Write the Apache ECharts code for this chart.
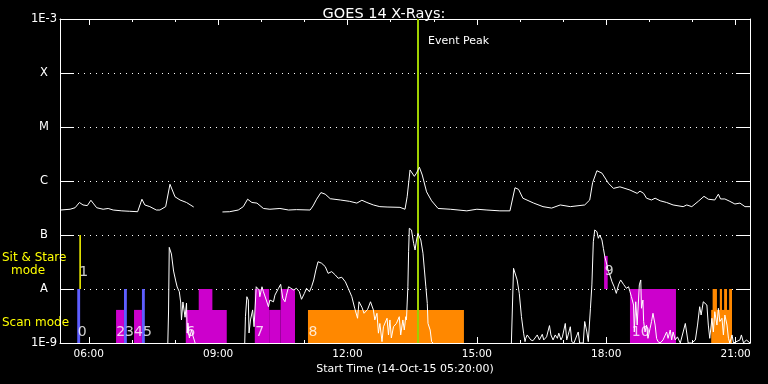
<!DOCTYPE html>
<html><head><meta charset="utf-8">
<script src="https://cdn.jsdelivr.net/npm/echarts@6/dist/echarts.min.js"></script>
<style>html,body{margin:0;padding:0;background:#000;}#c{width:768px;height:384px;}</style>
</head><body><div id="c"></div>
<script>
const titleText = 'GOES 14 X-Rays:';
const xTitle = 'Start Time (14-Oct-15 05:20:00)';
const timeStart = '05:20', timeEnd = '21:20';
const majorTicks = ['06:00','09:00','12:00','15:00','18:00','21:00'];
const hourTicks = ['06:00','07:00','08:00','09:00','10:00','11:00','12:00','13:00','14:00','15:00','16:00','17:00','18:00','19:00','20:00','21:00'];
const yLevels = [1e-9,1e-8,1e-7,1e-6,1e-5,1e-4,1e-3];
const yTickLabels = ['1E-9','A','B','C','M','X','1E-3'];
const eventPeakTime = '13:38';
const eventPeakText = 'Event Peak';

// 1-8 A channel
const longTimes = ['05:21','05:34','05:41','05:47','05:52','05:58','06:03','06:06','06:11','06:20','06:27','06:34','06:46','06:57','07:08','07:10','07:14','07:18','07:25','07:34','07:39','07:47','07:53','08:00','08:07','08:16','08:26','08:45',
'09:06','09:16','09:28','09:35','09:41','09:47','09:54','10:03','10:12','10:26','10:38','10:49','11:08','11:12','11:17','11:23','11:29','11:36','11:50','12:03','12:13','12:20','12:27','12:36','12:45','12:55','13:13','13:20','13:23','13:27','13:29','13:33','13:36','13:40','13:44','13:50','13:57','14:06','14:23','14:46','15:00','15:14','15:32','15:46','15:53','15:58','16:04','16:19','16:32','16:44','16:56','17:10','17:30','17:37','17:41','17:47','17:54','18:03','18:10','18:19','18:33','18:43','18:47','18:52','18:56','19:03','19:08','19:15','19:24','19:33','19:47','19:52','19:59','20:08','20:16','20:22','20:31','20:36','20:39','20:45','20:52','20:59','21:06','21:13','21:20'];
const longFlux = [2.9e-7,3.0e-7,3.2e-7,4.0e-7,3.6e-7,3.5e-7,4.4e-7,3.9e-7,3.2e-7,3.0e-7,3.1e-7,2.9e-7,2.8e-7,2.75e-7,2.7e-7,2.9e-7,4.6e-7,3.6e-7,3.35e-7,2.9e-7,2.9e-7,3.35e-7,8.7e-7,5.1e-7,4.45e-7,4.0e-7,3.3e-7,null,
2.67e-7,2.7e-7,2.9e-7,3.35e-7,4.6e-7,4.0e-7,3.9e-7,3.1e-7,3.0e-7,3.1e-7,2.9e-7,2.95e-7,2.9e-7,3.45e-7,4.6e-7,6.1e-7,5.7e-7,4.7e-7,4.45e-7,4.2e-7,3.9e-7,4.4e-7,4.0e-7,3.6e-7,3.35e-7,3.3e-7,3.25e-7,3.0e-7,5.1e-7,1.6e-6,1.65e-6,1.22e-6,1.4e-6,1.8e-6,1.29e-6,6.3e-7,4.3e-7,3.1e-7,3.0e-7,2.8e-7,3.0e-7,2.9e-7,2.8e-7,2.8e-7,7.5e-7,7.0e-7,4.8e-7,3.9e-7,3.35e-7,3.15e-7,3.6e-7,3.35e-7,3.6e-7,4.45e-7,9.3e-7,1.55e-6,1.4e-6,9.1e-7,7.3e-7,7.8e-7,6.8e-7,5.9e-7,6.5e-7,5.9e-7,4.8e-7,4.45e-7,4.8e-7,4.3e-7,4.0e-7,3.6e-7,3.35e-7,3.6e-7,3.35e-7,4.2e-7,5.2e-7,4.6e-7,4.45e-7,5.7e-7,4.65e-7,4.65e-7,4.2e-7,3.75e-7,3.9e-7,3.35e-7,3.35e-7];

// 0.5-4 A channel
const shortTimes = ['07:50','07:51','07:52','07:54','07:55','07:58','08:01','08:03','08:06','08:08','08:09','08:11','08:14','08:16','08:17','08:18','08:20','08:23','08:25','08:27','08:28','08:30',
'09:37','09:38','09:40','09:42','09:43','09:45','09:48','09:50','09:53','09:55','09:57','09:58','10:01','10:03','10:07','10:10','10:12','10:17','10:19','10:24','10:27','10:30','10:33','10:35','10:38','10:40','10:45','10:49','10:53','10:56','11:00','11:03','11:07','11:10','11:13','11:16','11:19','11:24','11:29','11:33','11:38','11:43','11:47','11:52','11:57','12:01','12:06','12:10','12:14','12:16','12:20','12:23','12:28','12:32','12:36','12:38','12:41','12:43','12:45','12:48','12:50','12:55','12:57','12:59','13:01','13:04','13:08','13:12','13:14','13:17','13:19','13:21','13:22','13:24','13:25','13:26','13:28','13:29','13:32','13:34','13:36','13:38','13:42','13:45','13:47','13:49','13:51','13:52','13:55','13:57','13:59','14:00',
'15:48','15:51','15:53','15:56','15:59','16:02','16:05','16:07','16:08','16:10','16:15','16:18','16:24','16:27','16:31','16:33','16:37','16:41','16:43','16:46','16:49','16:52','16:54','16:57','16:59','17:03','17:05','17:07','17:10','17:12','17:15','17:21','17:23','17:28','17:30','17:33','17:35','17:37','17:38','17:40','17:42','17:44','17:47','17:49','17:51','17:54','17:56','17:58','18:01','18:03','18:05','18:08','18:11','18:14','18:17','18:20','18:24','18:28','18:31','18:33','18:35','18:38','18:39','18:41','18:43','18:46','18:48','18:49','18:51','18:52','18:54','18:56','18:58','19:01','19:03','19:05','19:08','19:10','19:12','19:15','19:19','19:24','19:26','19:29','19:31','19:33','19:36','19:39','19:43','19:47','19:50','19:52','19:54','19:59','20:04','20:07','20:10','20:12','20:15','20:17','20:20','20:22','20:24','20:27','20:29','20:31','20:34','20:36','20:38','20:41','20:43','20:45','20:48','20:50','20:52','20:55','20:57','21:06','21:08','21:11','21:15','21:20'];
const shortFlux = [1.0e-9,3.75e-9,5.9e-8,5.75e-8,4.45e-8,2.15e-8,1.41e-8,1.09e-8,8.9e-9,5.5e-9,2.67e-9,5.75e-9,3.0e-9,5.5e-9,1.53e-9,2.35e-9,1.24e-9,1.74e-9,1.35e-9,1.41e-9,1.0e-9,null,
1.0e-9,3.07e-9,7.2e-9,6.25e-9,1.53e-9,2.67e-9,4.1e-9,2.0e-9,1.1e-8,1.19e-8,9.6e-9,7.2e-9,1.1e-8,8.9e-9,6.25e-9,4.7e-9,6.25e-9,5.8e-9,7.7e-9,1.03e-8,1.22e-8,6.7e-9,5.8e-9,7.7e-9,1.1e-8,1.14e-8,9.6e-9,1.03e-8,8.9e-9,6.45e-9,8.3e-9,1.03e-8,8.9e-9,1.1e-8,1.47e-8,2.25e-8,3.2e-8,3.0e-8,2.6e-8,1.95e-8,2.1e-8,1.82e-8,1.58e-8,1.65e-8,1.36e-8,1.03e-8,7.2e-9,4.4e-9,2.87e-9,5.8e-9,4.6e-9,3.55e-9,4.2e-9,5.8e-9,4.1e-9,2.67e-9,3.55e-9,1.52e-9,2.3e-9,1.06e-9,2.0e-9,2.87e-9,1.41e-9,2.67e-9,1.24e-9,2.0e-9,2.3e-9,3.07e-9,1.41e-9,2.67e-9,1.74e-9,3.07e-9,2.67e-9,1.1e-8,4.9e-8,1.33e-7,1.43e-7,1.24e-7,7.0e-8,5.27e-8,8.1e-8,1.07e-7,8.1e-8,4.6e-8,2.25e-8,1.1e-8,5.4e-9,2.3e-9,1.74e-9,1.06e-9,1.0e-9,null,
1.0e-9,2.42e-8,2.25e-8,1.47e-8,8.3e-9,3.07e-9,1.52e-9,1.06e-9,1.22e-9,1.41e-9,1.14e-9,1.1e-9,1.41e-9,1.14e-9,1.45e-9,1.14e-9,1.3e-9,2.1e-9,1.41e-9,1.14e-9,1.41e-9,1.22e-9,1.52e-9,1.14e-9,1.3e-9,2.3e-9,1.14e-9,1.41e-9,2.0e-9,1.06e-9,1.0e-9,1.6e-9,1.0e-9,1.0e-9,2.5e-9,1.6e-9,1.06e-9,1.0e-9,4.4e-9,1.19e-8,7.5e-8,1.24e-7,1.15e-7,8.7e-8,1.0e-7,8.1e-8,5.65e-8,3.96e-8,2.78e-8,2.09e-8,1.82e-8,1.36e-8,1.1e-8,8.3e-9,1.19e-8,1.47e-8,1.22e-8,1.03e-8,1.1e-8,8.9e-9,7.2e-9,5.05e-9,1.6e-9,5.8e-9,2.15e-9,1.19e-8,1.47e-8,4.4e-9,6.25e-9,2.5e-9,1.6e-9,2.15e-9,1.22e-9,1.87e-9,2.5e-9,3.55e-9,2.15e-9,1.22e-9,1.06e-9,1.0e-9,1.14e-9,1.6e-9,1.22e-9,1.74e-9,1.14e-9,1.6e-9,1.14e-9,1.3e-9,1.0e-9,1.6e-9,2.3e-9,2.5e-9,1.0e-9,1.0e-9,1.14e-9,2.15e-9,4.7e-9,3.3e-9,5.8e-9,6.25e-9,5.05e-9,2.15e-9,1.22e-9,2.87e-9,1.6e-9,3.8e-9,2.15e-9,4.4e-9,2.5e-9,2.87e-9,1.41e-9,3.3e-9,2.15e-9,1.22e-9,1.0e-9,1.41e-9,1.0e-9,1.14e-9,1.41e-9,1.0e-9,1.14e-9,1.0e-9];

// observing-mode blocks: [start, end, bottom flux, top flux]
const blueBars = [['05:44','05:48',1e-9,1e-8],['06:49','06:53',1e-9,1e-8],['07:14','07:18',1e-9,1e-8]];
const magentaBlocks = [['06:38','06:49',1e-9,4.1e-9],['07:03','07:14',1e-9,4.1e-9],['08:15','09:12',1e-9,4.1e-9],['08:33','08:52',1e-9,1e-8],
  ['09:51','10:11',1e-9,1e-8],['10:11','10:27',1e-9,4.1e-9],['10:27','10:47',1e-9,1e-8],['17:57','18:02',1e-8,4.1e-8],['18:33','19:37',1e-9,1e-8]];
const orangeBlocks = [['11:05','14:42',1e-9,4.1e-9],['20:26','20:55',1e-9,4.1e-9],['20:28','20:34',1e-9,1e-8],['20:38','20:41',1e-9,1e-8],['20:44','20:48',1e-9,1e-8],['20:51','20:55',1e-9,1e-8]];
const sitStareLine = ['05:48',1e-8,1e-7];
const modeLabelText = ['0','1','2345','6','7','8','9','10'];
const modeLabelTime = ['05:51','05:53','07:03','08:22','09:58','11:12','18:04','18:48'];
const modeLabelFlux = [1.55e-9,2.06e-8,1.55e-9,1.6e-9,1.6e-9,1.6e-9,2.09e-8,1.55e-9];

function toMin(s){const p=s.split(':');return (+p[0])*60+(+p[1]);}
function fmt(v){const h=Math.floor(v/60),m=Math.round(v%60);return (h<10?'0':'')+h+':'+(m<10?'0':'')+m;}
function series2(times, vals){return times.map((t,i)=>[toMin(t), vals[i]==null?'-':vals[i]]);}
function blocks(arr){return arr.map(b=>[toMin(b[0]),toMin(b[1]),b[2],b[3]]);}
function renderRect(params, api){
  const p0 = api.coord([api.value(0), api.value(3)]);
  const p1 = api.coord([api.value(1), api.value(2)]);
  return {type:'rect', shape:{x:p0[0], y:p0[1], width:p1[0]-p0[0], height:p1[1]-p0[1]}, style:{fill: api.visual('color')}};
}
const W='#ffffff';
const yLabelMap = {}; yLevels.forEach((v,i)=>{yLabelMap[Math.round(Math.log10(v))]=yTickLabels[i];});
const xmin = toMin(timeStart), xmax = toMin(timeEnd);
const majorV = majorTicks.map(toMin), hourV = hourTicks.map(toMin);

function xAx(pos, vals, len, showLine, showLabel){
  return {type:'value', position:pos, min:xmin, max:xmax,
    axisLine:{show:showLine, lineStyle:{color:W,width:1}},
    axisTick:{show:true, inside:true, length:len, customValues:vals, lineStyle:{color:W,width:1}},
    axisLabel:{show:showLabel, customValues:vals, color:W, fontSize:10.5, fontFamily:'DejaVu Sans', margin:6, formatter:fmt},
    splitLine:{show:false}};
}
function yAx(pos, showLabel, showSplit){
  return {type:'log', logBase:10, position:pos, min:yLevels[0], max:yLevels[yLevels.length-1], splitNumber:6,
    axisLine:{show:true, lineStyle:{color:W,width:1}},
    axisTick:{show:true, inside:true, length:14, lineStyle:{color:W,width:1}},
    axisLabel:{show:showLabel, color:W, fontSize:11.5, fontFamily:'DejaVu Sans', align:'center', margin:16,
      formatter:v=>yLabelMap[Math.round(Math.log10(v))]||''},
    splitLine:{show:showSplit, lineStyle:{color:W, width:1, type:[1,5]}},
    minorTick:{show:false}};
}

const chart = echarts.init(document.getElementById('c'), null, {renderer:'canvas'});
chart.setOption({
  backgroundColor:'#000',
  animation:false,
  title:{text:titleText, left:'center', top:2, textStyle:{color:W, fontSize:14.5, fontWeight:'normal', fontFamily:'DejaVu Sans'}},
  grid:{left:60, right:18, top:19, bottom:41},
  xAxis:[xAx('bottom',majorV,6,true,true), xAx('bottom',hourV,3,false,false), xAx('top',majorV,6,true,false), xAx('top',hourV,3,false,false)],
  yAxis:[yAx('left',true,true), yAx('right',false,false)],
  series:[
    {type:'custom', renderItem:renderRect, data:blocks(magentaBlocks), encode:{x:[0,1], y:[2,3]}, itemStyle:{color:'#cc00cc'}, clip:true, z:1},
    {type:'custom', renderItem:renderRect, data:blocks(orangeBlocks), encode:{x:[0,1], y:[2,3]}, itemStyle:{color:'#ff8800'}, clip:true, z:1},
    {type:'custom', renderItem:renderRect, data:blocks(blueBars), encode:{x:[0,1], y:[2,3]}, itemStyle:{color:'#5e5eff'}, clip:true, z:2},
    {type:'line', data:[[toMin(sitStareLine[0]),sitStareLine[1]],[toMin(sitStareLine[0]),sitStareLine[2]]], showSymbol:false, lineStyle:{color:'#ffff00', width:1.5}, z:3},
    {type:'scatter', symbolSize:0, data:modeLabelText.map((t,i)=>({name:t, value:[toMin(modeLabelTime[i]), modeLabelFlux[i]]})),
      label:{show:true, position:'inside', formatter:p=>p.name, color:W, fontSize:14, fontFamily:'DejaVu Sans'}, z:4},
    {type:'line', data:series2(longTimes,longFlux), showSymbol:false, connectNulls:false, lineStyle:{color:W, width:1}, clip:true, z:5},
    {type:'line', data:series2(shortTimes,shortFlux), showSymbol:false, connectNulls:false, lineStyle:{color:W, width:1}, clip:true, z:5,
      markLine:{silent:true, symbol:'none', label:{show:false}, lineStyle:{color:'#9fd000', width:2, type:'solid'}, data:[{xAxis:toMin(eventPeakTime)}]}}
  ],
  graphic:[
    {type:'text', left:428, top:36, style:{text:eventPeakText, fill:W, fontSize:11, fontFamily:'DejaVu Sans'}},
    {type:'text', left:2, top:252, style:{text:'Sit & Stare', fill:'#ffff00', fontSize:12, fontFamily:'DejaVu Sans'}},
    {type:'text', left:11, top:265, style:{text:'mode', fill:'#ffff00', fontSize:12, fontFamily:'DejaVu Sans'}},
    {type:'text', left:2, top:317, style:{text:'Scan mode', fill:'#ffff00', fontSize:12, fontFamily:'DejaVu Sans'}},
    {type:'text', x:405, y:369, style:{text:xTitle, fill:W, fontSize:11, fontFamily:'DejaVu Sans', align:'center', verticalAlign:'middle'}}
  ]
});
</script></body></html>
